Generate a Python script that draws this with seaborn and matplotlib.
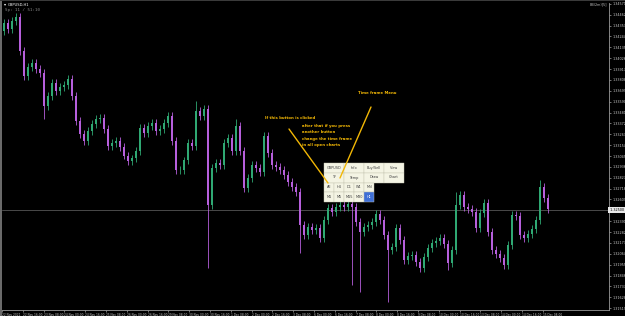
import numpy as np
import matplotlib
matplotlib.use("Agg")
import matplotlib.pyplot as plt
from matplotlib.patches import Rectangle
import seaborn as sns

# ---------------- data (GBPUSD, H1) ----------------
closes = [
    1.3438, 1.3432, 1.3440, 1.3444, 1.3410, 1.3385, 1.3394, 1.3398, 1.3392, 1.3388,
    1.3355, 1.3365, 1.3378, 1.3370, 1.3374, 1.3376, 1.3382, 1.3365, 1.3340, 1.3327,
    1.3320, 1.3330, 1.3337, 1.3342, 1.3343, 1.3332, 1.3315, 1.3318, 1.3320, 1.3314,
    1.3305, 1.3299, 1.3302, 1.3310, 1.3333, 1.3328, 1.3335, 1.3338, 1.3330, 1.3332,
    1.3338, 1.3345, 1.3320, 1.3290, 1.3290, 1.3300, 1.3318, 1.3315, 1.3350, 1.3345,
    1.3352, 1.3255, 1.3292, 1.3297, 1.3295, 1.3318, 1.3323, 1.3310, 1.3335, 1.3310,
    1.3272, 1.3282, 1.3295, 1.3292, 1.3288, 1.3325, 1.3308, 1.3295, 1.3293, 1.3290,
    1.3285, 1.3278, 1.3273, 1.3268, 1.3235, 1.3225, 1.3233, 1.3230, 1.3232, 1.3222,
    1.3240, 1.3252, 1.3248, 1.3253, 1.3255, 1.3253, 1.3256, 1.3253, 1.3238, 1.3228,
    1.3233, 1.3235, 1.3238, 1.3246, 1.3240, 1.3225, 1.3210, 1.3213, 1.3232, 1.3220,
    1.3200, 1.3204, 1.3205, 1.3198, 1.3192, 1.3203, 1.3212, 1.3217, 1.3219, 1.3222,
    1.3216, 1.3197, 1.3210, 1.3255, 1.3265, 1.3253, 1.3251, 1.3248, 1.3232, 1.3247,
    1.3257, 1.3228, 1.3210, 1.3206, 1.3202, 1.3195, 1.3215, 1.3245, 1.3244, 1.3225,
    1.3222, 1.3226, 1.3231, 1.3240, 1.3273, 1.3262, 1.3251,
]
first_open = 1.3430
low_spikes = {10: 1.3342, 51: 1.3192, 74: 1.3207, 87: 1.3175, 89: 1.3168,
              96: 1.3158, 111: 1.3190}
high_spikes = {3: 1.3448, 48: 1.3360, 58: 1.3342, 113: 1.3268, 134: 1.3280}
current_price = 1.3250

time_labels = [
    "22 Nov 2021", "22 Nov 16:00", "23 Nov 08:00", "24 Nov 00:00", "24 Nov 16:00",
    "25 Nov 08:00", "26 Nov 00:00", "26 Nov 16:00", "29 Nov 08:00", "30 Nov 00:00",
    "30 Nov 16:00", "1 Dec 08:00", "2 Dec 00:00", "2 Dec 16:00", "3 Dec 08:00",
    "6 Dec 00:00", "6 Dec 16:00", "7 Dec 08:00", "8 Dec 00:00", "8 Dec 16:00",
    "9 Dec 08:00", "10 Dec 00:00", "10 Dec 16:00", "13 Dec 08:00", "14 Dec 00:00",
    "14 Dec 16:00", "15 Dec 08:00",
]
price_step = 0.00109

menu_row1 = ["GBPUSD", "Info", "Buy/Sell", "View"]
menu_row2 = ["TF", "Temp", "Draw", "Chart"]
menu_row3 = ["All", "H4", "D1", "W1", "MN"]
menu_row4 = ["M1", "M5", "M15", "M30", "H1"]
note_clicked = "If this button is clicked"
note_after = ["after that if you press", "another button",
              "change the time frame", "in all open charts"]
note_menu = "Time frame Menu"

# ---------------- style ----------------
sns.set_theme(style="dark")
plt.rcParams['font.family'] = ['DejaVu Sans']

W, H = 625, 316
fig = plt.figure(figsize=(W / 100, H / 100), dpi=100, facecolor="black")

def fx(x):
    return x / W

def fy(y):
    return 1 - y / H

ax_left, ax_right, ax_top, ax_bot = 2, 609, 3, 310
ax = fig.add_axes([fx(ax_left), fy(ax_bot), fx(ax_right - ax_left), (ax_bot - ax_top) / H])
ax.set_facecolor("black")

n = len(closes)
idx = np.arange(n)
c = np.array(closes)
o = np.concatenate([[first_open], c[:-1]])
wick = 0.0004
hi = np.maximum(o, c) + wick
lo = np.minimum(o, c) - wick
for k, v in low_spikes.items():
    lo[k] = v
for k, v in high_spikes.items():
    hi[k] = v

bull = "#2fa873"
bear = "#b65fdc"
cols = [bull if cc >= oo else bear for oo, cc in zip(o, c)]
ax.vlines(idx, lo, hi, colors=cols, linewidth=0.6, zorder=2)
body = np.maximum(np.abs(c - o), 0.00008)
ax.bar(idx, body, bottom=np.minimum(o, c), width=0.45, color=cols,
       linewidth=0, zorder=3)

# scales: 1 px = 0.0001, candle spacing 4 px, first candle at px 4
def px_to_price(y):
    return 1.3460 - y * 0.0001

ax.set_ylim(px_to_price(ax_bot), px_to_price(2))
ax.set_xlim((ax_left - 4) / 4, (ax_right - 4) / 4)

ax.axhline(current_price, color="#4a4a4a", linewidth=0.7, zorder=1)

# y axis on the right
yt = current_price + np.arange(-9, 20) * price_step
ax.set_yticks(yt)
ax.set_yticklabels(["" if abs(v - current_price) < 1e-9 else f"{v:.5f}" for v in yt])
ax.yaxis.tick_right()
ax.tick_params(axis="y", colors="#c8c8c8", labelsize=2.4, length=1.5, width=0.4,
               pad=1, right=True, left=False, labelright=True, labelleft=False)

# x axis
xt = np.arange(len(time_labels)) * 5.2 - 0.5
ax.set_xticks(xt)
ax.set_xticklabels(time_labels)
for lbl in ax.get_xticklabels():
    lbl.set_horizontalalignment("left")
ax.tick_params(axis="x", colors="#c8c8c8", labelsize=2.1, length=1.5, width=0.4,
               pad=0.8, bottom=True)

ax.grid(False)
for s in ["top", "left"]:
    ax.spines[s].set_visible(False)
for s in ["right", "bottom"]:
    ax.spines[s].set_color("#9a9a9a")
    ax.spines[s].set_linewidth(0.6)

# current price tag
ax.text(1.0, current_price, f" {current_price:.5f}", transform=ax.get_yaxis_transform(),
        fontsize=2.4, color="black", va="center", ha="left",
        bbox=dict(boxstyle="square,pad=0.25", fc="#e8e8e8", ec="#e8e8e8", lw=0),
        zorder=10, clip_on=False)

# window frame
fig.add_artist(Rectangle((0, 0), fx(2), 1, transform=fig.transFigure,
                         color="#6a6a6a", lw=0))
fig.add_artist(Rectangle((0, fy(1.2)), 1, 1.2 / H, transform=fig.transFigure,
                         color="#3a3a3a", lw=0))

# header texts
fig.text(fx(4), fy(4.5), "\u25be", color="white", fontsize=3, va="center", ha="left")
fig.text(fx(8), fy(4.5), "GBPUSD,H1", color="white", fontsize=2.6, va="center", ha="left")
fig.text(fx(5), fy(9.5), "Sp: 11 / 51:10", color="#8a8a8a", fontsize=3,
         family="DejaVu Sans Mono", va="center", ha="left")
fig.text(fx(607), fy(4.5), "BB(2m)[5]", color="#bdbdbd", fontsize=2.4, va="center",
         ha="right")

# ---------------- menu panel ----------------
cream = "#f4f4e4"
edge = "#c4c4b0"
txt = "#3c3c3c"

def cell(x0, y0, x1, y1, label, bg=cream, fg=txt):
    fig.add_artist(Rectangle((fx(x0), fy(y1)), fx(x1 - x0), (y1 - y0) / H,
                             transform=fig.transFigure, fc=bg, ec=edge, lw=0.3,
                             zorder=20))
    fig.text(fx((x0 + x1) / 2), fy((y0 + y1) / 2), label, color=fg, fontsize=2.5,
             ha="center", va="center", zorder=21)

x4 = [324, 344, 364, 384, 404]
x5 = [324, 334, 344, 354, 364, 374]
rows_y = [163, 172.5, 182.5, 192.3, 202]
for j, lab in enumerate(menu_row1):
    cell(x4[j], rows_y[0], x4[j + 1], rows_y[1], lab)
for j, lab in enumerate(menu_row2):
    cell(x4[j], rows_y[1], x4[j + 1], rows_y[2], lab)
for j, lab in enumerate(menu_row3):
    cell(x5[j], rows_y[2], x5[j + 1], rows_y[3], lab)
for j, lab in enumerate(menu_row4):
    if lab == "H1":
        cell(x5[j], rows_y[3], x5[j + 1], rows_y[4], lab, bg="#3f6fd6", fg="white")
    else:
        cell(x5[j], rows_y[3], x5[j + 1], rows_y[4], lab)

# ---------------- annotations ----------------
gold = "#f2b705"
fig.text(fx(265), fy(118), note_clicked, color=gold, fontsize=2.8, fontweight="bold",
         ha="left", va="center", zorder=22)
for k, line in enumerate(note_after):
    fig.text(fx(302), fy(126 + 6.4 * k), line, color=gold, fontsize=2.8,
             fontweight="bold", ha="left", va="center", zorder=22)
fig.text(fx(358), fy(93), note_menu, color=gold, fontsize=2.8, fontweight="bold",
         ha="left", va="center", zorder=22)

fig.add_artist(plt.Line2D([fx(289), fx(328)], [fy(129), fy(183)],
                          transform=fig.transFigure, color=gold, lw=1.0, zorder=23))
fig.add_artist(plt.Line2D([fx(371), fx(340)], [fy(107), fy(178)],
                          transform=fig.transFigure, color=gold, lw=1.0, zorder=23))

fig.savefig("out.png", dpi=100, facecolor="black")
